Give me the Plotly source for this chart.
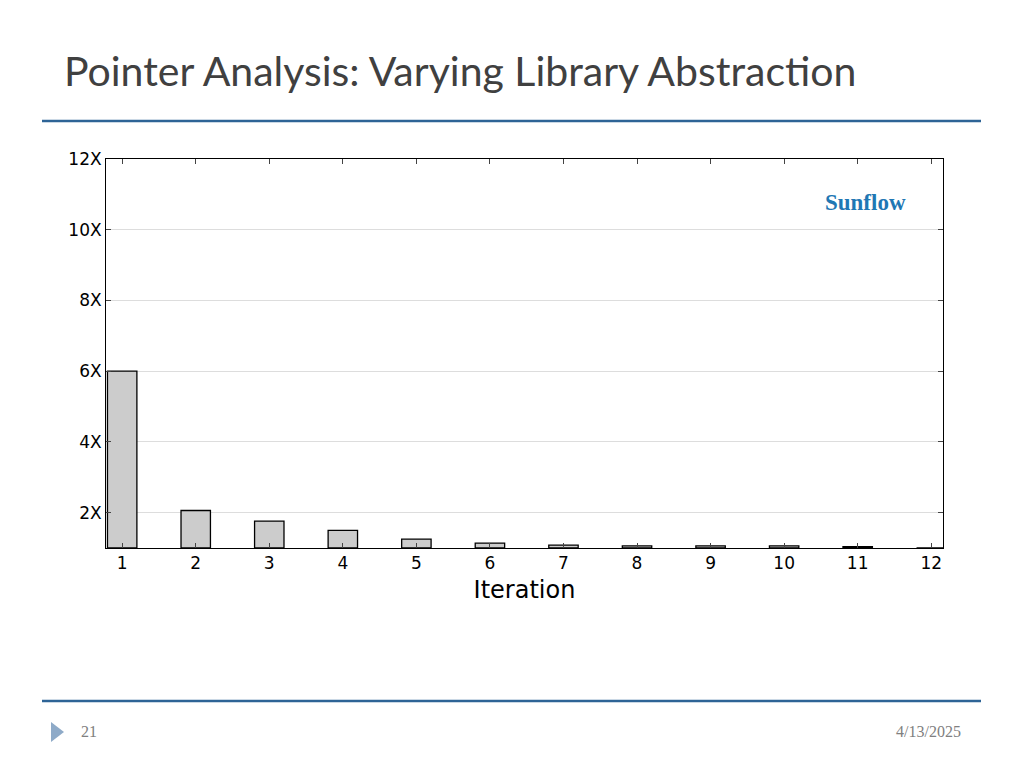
import plotly.graph_objects as go

iterations = [1, 2, 3, 4, 5, 6, 7, 8, 9, 10, 11, 12]
speedup = [6.0, 2.06, 1.76, 1.5, 1.25, 1.14, 1.08, 1.06, 1.06, 1.06, 1.04, 1.0]
ytick_vals = [2, 4, 6, 8, 10, 12]
ytick_text = ["2X", "4X", "6X", "8X", "10X", "12X"]

fig = go.Figure(go.Bar(
    x=iterations, y=[v - 1 for v in speedup], base=1, width=0.4,
    marker=dict(color="#cccccc", line=dict(color="black", width=1.3)),
))

W, H = 1024, 768
L, R, T, B = 106, 943, 159, 548
PW, PH = R - L, B - T
def px(x): return (x - L) / PW
def py(y): return (B - y) / PH

fig.update_layout(
    width=W, height=H, paper_bgcolor="white", plot_bgcolor="white",
    margin=dict(l=98, r=89, t=151, b=228), showlegend=False,
    font=dict(family="DejaVu Sans", color="black"),
)
fig.update_xaxes(range=[0.78, 12.16], tickvals=iterations, ticks="inside", ticklen=5,
                 showline=True, linecolor="black", mirror="ticks", showgrid=False,
                 tickfont=dict(size=17), title=dict(text="Iteration", font=dict(size=24), standoff=8))
fig.update_yaxes(range=[1, 12], tickvals=ytick_vals, ticktext=ytick_text, ticks="inside", ticklen=5,
                 showline=True, linecolor="black", mirror="ticks", showgrid=True, gridcolor="#dddddd",
                 tickfont=dict(size=17), zeroline=False)

fig.add_annotation(text="<b>Sunflow</b>", x=px(908), y=py(202), xref="paper", yref="paper",
                   xanchor="right", yanchor="middle", showarrow=False,
                   font=dict(family="Liberation Serif", size=23, color="#1f77b4"))
fig.add_annotation(text="Pointer Analysis: Varying Library Abstraction", x=px(62), y=py(70),
                   xref="paper", yref="paper", xanchor="left", yanchor="middle", showarrow=False,
                   font=dict(family="Lato", size=41, color="#404040"))
for yy in (121, 701):
    fig.add_shape(type="line", xref="paper", yref="paper", x0=px(42), x1=px(981),
                  y0=py(yy), y1=py(yy), line=dict(color="#2e6496", width=2.5))
fig.add_shape(type="path", xref="paper", yref="paper",
              path=f"M {px(51)} {py(722)} L {px(64)} {py(732)} L {px(51)} {py(742)} Z",
              fillcolor="#8eaac8", line=dict(width=0))
fig.add_annotation(text="21", x=px(79), y=py(731), xref="paper", yref="paper",
                   xanchor="left", yanchor="middle", showarrow=False,
                   font=dict(family="Liberation Serif", size=16, color="#808080"))
fig.add_annotation(text="4/13/2025", x=px(963), y=py(731), xref="paper", yref="paper",
                   xanchor="right", yanchor="middle", showarrow=False,
                   font=dict(family="Liberation Serif", size=16, color="#808080"))

fig.write_html("out.html")
